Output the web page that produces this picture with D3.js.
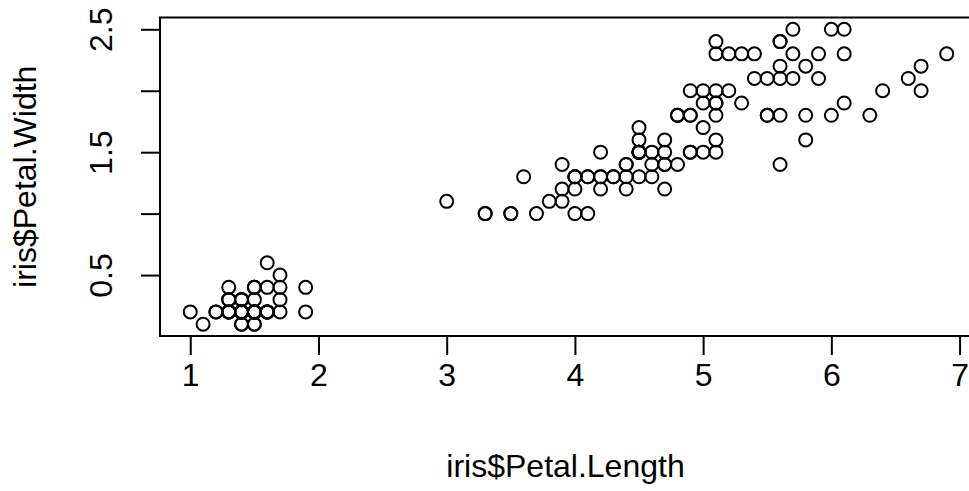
<!DOCTYPE html>
<html>
<head>
<meta charset="utf-8">
<script src="https://cdn.jsdelivr.net/npm/d3@7"></script>
<style>
  body { margin: 0; background: #fff; }
  svg { display: block; }
  text { font-family: "Liberation Sans", Arial, sans-serif; fill: #000; }
</style>
</head>
<body>
<div id="chart"></div>
<script>
// iris: Petal.Length / Petal.Width, 150 rows
var petalLength = [
  1.4,1.4,1.3,1.5,1.4,1.7,1.4,1.5,1.4,1.5,1.5,1.6,1.4,1.1,1.2,1.5,1.3,1.4,1.7,1.5,
  1.7,1.5,1.0,1.7,1.9,1.6,1.6,1.5,1.4,1.6,1.6,1.5,1.5,1.4,1.5,1.2,1.3,1.4,1.3,1.5,
  1.3,1.3,1.3,1.6,1.9,1.4,1.6,1.4,1.5,1.4,
  4.7,4.5,4.9,4.0,4.6,4.5,4.7,3.3,4.6,3.9,3.5,4.2,4.0,4.7,3.6,4.4,4.5,4.1,4.5,3.9,
  4.8,4.0,4.9,4.7,4.3,4.4,4.8,5.0,4.5,3.5,3.8,3.7,3.9,5.1,4.5,4.5,4.7,4.4,4.1,4.0,
  4.4,4.6,4.0,3.3,4.2,4.2,4.2,4.3,3.0,4.1,
  6.0,5.1,5.9,5.6,5.8,6.6,4.5,6.3,5.8,6.1,5.1,5.3,5.5,5.0,5.1,5.3,5.5,6.7,6.9,5.0,
  5.7,4.9,6.7,4.9,5.7,6.0,4.8,4.9,5.6,5.8,6.1,6.4,5.6,5.1,5.6,6.1,5.6,5.5,4.8,5.4,
  5.6,5.1,5.1,5.9,5.7,5.2,5.0,5.2,5.4,5.1
];
var petalWidth = [
  0.2,0.2,0.2,0.2,0.2,0.4,0.3,0.2,0.2,0.1,0.2,0.2,0.1,0.1,0.2,0.4,0.4,0.3,0.3,0.3,
  0.2,0.4,0.2,0.5,0.2,0.2,0.4,0.2,0.2,0.2,0.2,0.4,0.1,0.2,0.2,0.2,0.2,0.1,0.2,0.2,
  0.3,0.3,0.2,0.6,0.4,0.3,0.2,0.2,0.2,0.2,
  1.4,1.5,1.5,1.3,1.5,1.3,1.6,1.0,1.3,1.4,1.0,1.5,1.0,1.4,1.3,1.4,1.5,1.0,1.5,1.1,
  1.8,1.3,1.5,1.2,1.3,1.4,1.4,1.7,1.5,1.0,1.1,1.0,1.2,1.6,1.5,1.6,1.5,1.3,1.3,1.3,
  1.2,1.4,1.2,1.0,1.3,1.2,1.3,1.3,1.1,1.3,
  2.5,1.9,2.1,1.8,2.2,2.1,1.7,1.8,1.8,2.5,2.0,1.9,2.1,2.0,2.4,2.3,1.8,2.2,2.3,1.5,
  2.3,2.0,2.0,1.8,2.1,1.8,1.8,1.8,2.1,1.6,1.9,2.0,2.2,1.5,1.4,2.3,2.4,1.8,1.8,2.1,
  2.4,2.3,1.9,2.3,2.5,2.3,1.9,2.0,2.3,1.8
];
var xTicks = [1, 2, 3, 4, 5, 6, 7];
var yTicks = [0.5, 1.0, 1.5, 2.0, 2.5];
var yLabelled = [0.5, 1.5, 2.5];
var xTitle = "iris$Petal.Length";
var yTitle = "iris$Petal.Width";

var W = 969, H = 491;
var plotL = 160, plotT = 17.5, plotB = 336, plotR = 977;
var fs = 32;

var svg = d3.select("#chart").append("svg")
  .attr("width", W).attr("height", H);

// R style: range extended by 4%
var xe = d3.extent(petalLength), ye = d3.extent(petalWidth);
var xp = (xe[1] - xe[0]) * 0.04, yp = (ye[1] - ye[0]) * 0.04;
var x = d3.scaleLinear().domain([xe[0] - xp, xe[1] + xp]).range([plotL, plotR]);
var y = d3.scaleLinear().domain([ye[0] - yp, ye[1] + yp]).range([plotB, plotT]);

// frame
svg.append("rect")
  .attr("x", plotL).attr("y", plotT)
  .attr("width", plotR - plotL).attr("height", plotB - plotT)
  .attr("fill", "none").attr("stroke", "#000").attr("stroke-width", 2);

// x axis
var xAxis = d3.axisBottom(x).tickValues(xTicks).tickSize(19).tickPadding(8)
  .tickFormat(d3.format("d"));
var gx = svg.append("g").attr("transform", "translate(0," + plotB + ")").call(xAxis);
gx.select(".domain").remove();
gx.selectAll("line").attr("stroke", "#000").attr("stroke-width", 2);
gx.selectAll("text").attr("fill", "#000").style("font-size", fs + "px");
gx.attr("font-family", null).attr("font-size", null);

// y axis, labels rotated like R (only some fit)
var yAxis = d3.axisLeft(y).tickValues(yTicks).tickSize(19)
  .tickFormat(function(d) { return yLabelled.indexOf(d) >= 0 ? d3.format(".1f")(d) : ""; });
var gy = svg.append("g").attr("transform", "translate(" + plotL + ",0)").call(yAxis);
gy.select(".domain").remove();
gy.attr("font-family", null).attr("font-size", null);
gy.selectAll("line").attr("stroke", "#000").attr("stroke-width", 2);
gy.selectAll("text")
  .attr("x", null).attr("dy", null)
  .attr("fill", "#000")
  .attr("text-anchor", "middle")
  .attr("transform", "translate(-48,0) rotate(-90)")
  .style("font-size", fs + "px");

// points
svg.append("g").selectAll("circle")
  .data(d3.range(petalLength.length))
  .enter().append("circle")
  .attr("cx", function(i) { return x(petalLength[i]); })
  .attr("cy", function(i) { return y(petalWidth[i]); })
  .attr("r", 6.5)
  .attr("fill", "none").attr("stroke", "#000").attr("stroke-width", 2);

// titles
svg.append("text")
  .attr("x", (plotL + plotR) / 2 - 3).attr("y", 477)
  .attr("text-anchor", "middle").style("font-size", fs + "px")
  .text(xTitle);
svg.append("text")
  .attr("transform", "translate(36," + (plotT + plotB) / 2 + ") rotate(-90)")
  .attr("text-anchor", "middle").style("font-size", fs + "px")
  .text(yTitle);
</script>
</body>
</html>
